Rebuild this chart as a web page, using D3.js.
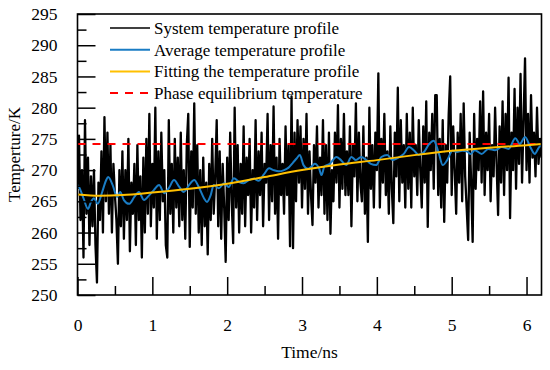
<!DOCTYPE html>
<html>
<head>
<meta charset="utf-8">
<script src="https://cdn.jsdelivr.net/npm/d3@7"></script>
<style>
  body { margin: 0; background: #fff; }
  svg { display: block; font-family: "Liberation Serif", "Times New Roman", serif; }
</style>
</head>
<body>
<div id="chart"></div>
<script>
// System temperature, sampled every 0.02 ns from t = 0
const sampleStep = 0.02;
const systemTemp = [
    267, 275.5, 262, 270, 256, 278, 263, 272, 258, 269,
    261, 270, 258, 252, 268, 262, 273, 260, 278.5, 265,
    276, 263, 274, 260, 271, 266, 262, 255, 270, 261,
    273, 259, 270, 262, 275, 257, 268, 263, 271, 258,
    274, 262, 269, 256, 272, 260, 275, 263, 279, 261,
    271, 264, 280, 259, 273, 262, 276, 265, 270, 258,
    256, 278, 263, 271, 260, 275, 264, 272, 261, 276,
    262, 270, 259, 274, 279, 257.7, 273, 264, 280.7, 263,
    274, 260, 270, 258, 272, 261, 268, 256.5, 271, 262,
    275, 263, 269, 278, 261, 273, 259, 271, 264, 255.3,
    272, 262, 276, 265, 258.3, 280, 264, 274, 260, 271,
    263, 277, 261, 272, 266, 275, 260, 270, 264, 278,
    262, 273, 266, 276, 261, 271, 268, 279, 262, 274,
    265, 280.2, 263, 272, 259, 275, 266, 271, 263, 277,
    266, 274, 257.8, 281.8, 257.5, 276, 265, 278, 268, 277,
    264, 275, 267, 279, 263, 273, 266, 261.2, 274, 268,
    277, 264, 272, 266, 278, 263, 274, 262, 276, 259.8,
    270, 265, 276, 268, 280.4, 264, 275, 267, 279, 266,
    273, 266, 277, 261, 274, 269, 280.7, 265, 276, 268,
    265, 277, 263, 272, 258.5, 280, 267, 274, 264, 276,
    270, 285.5, 264, 275, 268, 279, 266, 273, 263, 277,
    267, 261.5, 276, 269, 283.2, 265, 278, 268, 274, 264,
    279, 267, 276, 264, 280, 269, 274, 266, 278, 270,
    264, 277, 268, 281, 260.9, 276, 270, 279, 267, 282,
    282, 266, 275, 264, 278, 261.7, 274, 268, 279, 285,
    266, 277, 270, 263, 276, 268, 279, 265, 280.7, 269,
    264, 258.8, 276, 268, 258.5, 279, 267, 275, 270, 281,
    268, 282.6, 266, 276, 270, 279, 265, 274, 269, 280,
    271, 262.8, 277, 268, 281, 266, 279, 270, 284.8, 262.3,
    276, 270, 283, 267, 280, 271, 285.4, 268, 278, 287.9,
    270, 279, 268, 282, 272, 276, 269, 280, 271, 275,
    272
];

// Average temperature profile
const avgTime = [0, 0.02, 0.08, 0.14, 0.18, 0.22, 0.27, 0.33, 0.38, 0.41, 0.47, 0.53, 0.57, 0.62, 0.69,
    0.76, 0.82, 0.89, 0.96, 1.02, 1.09, 1.16, 1.22, 1.29, 1.36, 1.42, 1.49, 1.56, 1.62, 1.69,
    1.73, 1.78, 1.82, 1.89, 1.96, 2.02, 2.09, 2.16, 2.22, 2.29, 2.36, 2.42, 2.49, 2.56, 2.62,
    2.69, 2.76, 2.82, 2.88, 2.93, 2.97, 3.02, 3.08, 3.13, 3.17, 3.23, 3.26, 3.30, 3.37, 3.46,
    3.52, 3.59, 3.66, 3.72, 3.79, 3.86, 3.92, 3.99, 4.06, 4.14, 4.21, 4.27, 4.36, 4.43, 4.50,
    4.56, 4.63, 4.70, 4.76, 4.83, 4.88, 4.94, 5.01, 5.07, 5.14, 5.20, 5.25, 5.31, 5.40, 5.49,
    5.58, 5.67, 5.76, 5.85, 5.91, 5.98, 6.05, 6.11, 6.17, 6.2];
const avgTemp = [267.6, 267.3, 265.5, 263.8, 264.9, 265.5, 264.6, 266.5, 268.3, 268.9, 267.6, 265.7, 266.5, 265.2, 264.6,
    265.7, 266.5, 265.2, 266.0, 266.8, 267.6, 266.3, 267.1, 268.4, 267.3, 266.5, 267.6, 268.4, 267.3, 265.5,
    264.9, 266.0, 267.6, 267.1, 267.9, 267.3, 268.7, 268.1, 267.9, 268.4, 268.6, 268.3, 269.3, 270.3, 270.0,
    269.8, 270.0, 270.4, 271.2, 271.9, 272.4, 270.8, 270.2, 270.6, 271.0, 270.2, 269.2, 270.6, 271.0, 272.1,
    271.6, 270.8, 272.1, 271.6, 272.1, 271.6, 271.0, 270.8, 272.1, 272.4, 271.6, 271.9, 272.6, 273.7, 273.1,
    272.4, 272.9, 274.2, 274.7, 272.6, 270.8, 271.6, 273.1, 272.9, 273.1, 273.0, 272.6, 273.2, 272.6, 273.4,
    273.2, 273.7, 273.4, 275.1, 274.2, 275.3, 273.7, 272.6, 273.7, 273.9];

// Fitted temperature profile
const fitTime = [0, 0.3, 0.6, 1, 1.5, 2, 2.5, 3, 3.5, 4, 4.5, 5, 5.5, 6, 6.2];
const fitTemp = [266.1, 265.9, 266.0, 266.4, 267.0, 267.8, 268.9, 270.0, 270.9, 271.6, 272.4, 273.1, 273.6, 274.0, 274.2];

const equilibriumTemp = 274.2;

const xTicks = [0, 1, 2, 3, 4, 5, 6];
const yTicks = [250, 255, 260, 265, 270, 275, 280, 285, 290, 295];

const legendLabels = ['System temperature profile', 'Average temperature profile',
    'Fitting the temperature profile', 'Phase equilibrium temperature'];

const width = 550, height = 370;
const margin = { top: 14, right: 8.5, bottom: 75, left: 77.5 };
const innerW = width - margin.left - margin.right;
const innerH = height - margin.top - margin.bottom;

const colBlack = '#000', colBlue = '#1a7cc4', colYellow = '#ffc000', colRed = '#ff0000';

const svg = d3.select('#chart').append('svg')
    .attr('width', width)
    .attr('height', height);

const plot = svg.append('g')
    .attr('transform', `translate(${margin.left},${margin.top})`);

const x = d3.scaleLinear().domain([0, 6.2]).range([0, innerW]);
const y = d3.scaleLinear().domain([250, 295]).range([innerH, 0]);

svg.append('clipPath').attr('id', 'clip')
    .append('rect').attr('width', innerW).attr('height', innerH);

const lines = plot.append('g').attr('clip-path', 'url(#clip)');

const line = d3.line()
    .x(d => x(d[0]))
    .y(d => y(d[1]));

const sysData = systemTemp.map((v, i) => [i * sampleStep, v]);
const avgData = avgTime.map((t, i) => [t, avgTemp[i]]);
const fitData = fitTime.map((t, i) => [t, fitTemp[i]]);

lines.append('path').datum(sysData)
    .attr('fill', 'none').attr('stroke', colBlack).attr('stroke-width', 2.3)
    .attr('stroke-linejoin', 'round')
    .attr('d', line);

lines.append('line')
    .attr('x1', x(0)).attr('x2', x(6.2))
    .attr('y1', y(equilibriumTemp)).attr('y2', y(equilibriumTemp))
    .attr('stroke', colRed).attr('stroke-width', 2)
    .attr('stroke-dasharray', '8,7');

lines.append('path').datum(avgData)
    .attr('fill', 'none').attr('stroke', colBlue).attr('stroke-width', 2)
    .attr('d', line.curve(d3.curveMonotoneX));

lines.append('path').datum(fitData)
    .attr('fill', 'none').attr('stroke', colYellow).attr('stroke-width', 2)
    .attr('d', line.curve(d3.curveMonotoneX));

// axes: ticks point inward, major 18px, minor 9px
const xMinor = d3.range(0.5, 6.2, 1);
const yMinor = d3.range(252.5, 295, 5);

const xAxis = plot.append('g').attr('transform', `translate(0,${innerH})`);
xAxis.call(d3.axisBottom(x).tickValues(xTicks).tickSize(-18).tickPadding(24).tickFormat(d3.format('d')));
xAxis.append('g').call(d3.axisBottom(x).tickValues(xMinor).tickSize(-9).tickFormat(''));

const yAxis = plot.append('g');
yAxis.call(d3.axisLeft(y).tickValues(yTicks).tickSize(-18).tickPadding(20).tickFormat(d3.format('d')));
yAxis.append('g').call(d3.axisLeft(y).tickValues(yMinor).tickSize(-9).tickFormat(''));

plot.selectAll('.domain').remove();
plot.selectAll('.tick line').attr('stroke', '#000').attr('stroke-width', 1.5);
plot.selectAll('.tick text')
    .attr('fill', '#000')
    .style('font-size', '17.5px')
    .style('font-family', '"Liberation Serif", serif');

plot.append('rect')
    .attr('width', innerW).attr('height', innerH)
    .attr('fill', 'none').attr('stroke', '#000').attr('stroke-width', 1.6);

svg.append('text')
    .attr('x', margin.left + innerW / 2)
    .attr('y', 358)
    .attr('text-anchor', 'middle')
    .style('font-size', '17.5px')
    .text('Time/ns');

svg.append('text')
    .attr('transform', `translate(20,${margin.top + innerH / 2}) rotate(-90)`)
    .attr('text-anchor', 'middle')
    .style('font-size', '17px')
    .text('Temperture/K');

// legend
const legend = svg.append('g').attr('transform', 'translate(110,28)');
const legendItems = legend.selectAll('g')
    .data(legendLabels)
    .enter().append('g')
    .attr('transform', (d, i) => `translate(0,${i * 21.7})`);

legendItems.append('line')
    .attr('x1', 0).attr('x2', 40)
    .attr('stroke', (d, i) => [colBlack, colBlue, colYellow, colRed][i])
    .attr('stroke-width', (d, i) => i === 0 ? 1.5 : 2)
    .attr('stroke-dasharray', (d, i) => i === 3 ? '8,7' : null);

legendItems.append('text')
    .attr('x', 44)
    .attr('y', 6)
    .style('font-size', '17px')
    .text(d => d);
</script>
</body>
</html>
